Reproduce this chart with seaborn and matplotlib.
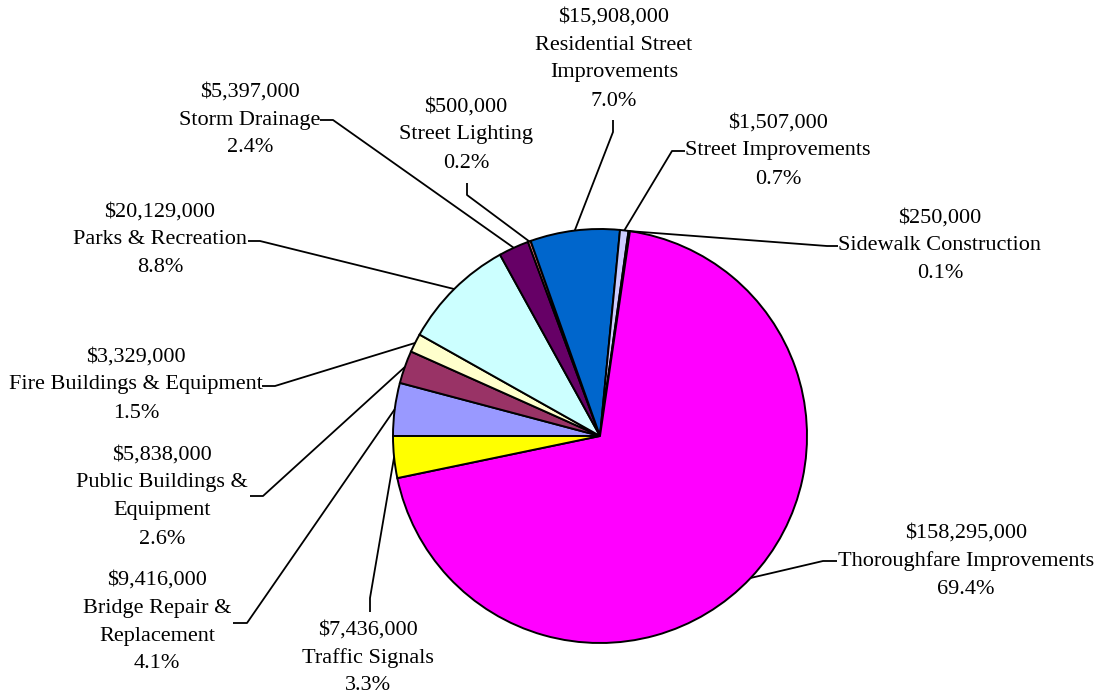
import matplotlib
matplotlib.use("Agg")
import matplotlib.pyplot as plt
import seaborn as sns
import numpy as np

sns.set_theme(style="white")
plt.rcParams['font.family'] = ['Liberation Serif', 'DejaVu Serif']

# ---- data (Excel order, drawn clockwise from 9 o'clock) ----
categories = ["Bridge Repair &\nReplacement", "Public Buildings &\nEquipment",
              "Fire Buildings & Equipment", "Parks & Recreation", "Storm Drainage",
              "Street Lighting", "Residential Street\nImprovements",
              "Street Improvements", "Sidewalk Construction",
              "Thoroughfare Improvements", "Traffic Signals"]
amounts = [9416000, 5838000, 3329000, 20129000, 5397000, 500000, 15908000,
           1507000, 250000, 158295000, 7436000]
percent_labels = ["4.1%", "2.6%", "1.5%", "8.8%", "2.4%", "0.2%", "7.0%",
                  "0.7%", "0.1%", "69.4%", "3.3%"]
colors = ["#9999FF", "#993366", "#FFFFCC", "#CCFFFF", "#660066", "#FF8080",
          "#0066CC", "#CCCCFF", "#000080", "#FF00FF", "#FFFF00"]

# ---- label layout (pixel positions: text centre x, first line y, elbow, end) ----
text_x = [157, 162, 136, 160, 250, 466, 614, 778, 940, 966, 368]
text_y0 = [580, 455, 357, 212, 92, 107, 17, 123, 218, 533, 630]
elbows = [(247, 623), (263, 496), (275, 386), (260, 241), (333, 120), (467, 195),
          (613, 132), (672, 151), (827, 246), (823, 561), (370, 598)]
ends = [(233, 623), (250, 496), (262, 386), (248, 241), (320, 120), (467, 183),
        (613, 120), (685, 151), (838, 246), (837, 561), (370, 612)]

W, H = 1098, 698
LINE = 28
CX, CY, R = 600, 436, 207

def px(x, y):
    return x, H - y

fig = plt.figure(figsize=(W / 100, H / 100), dpi=100)
ax = fig.add_axes([0, 0, 1, 1])
wedges, _ = ax.pie(amounts, colors=colors, startangle=180, counterclock=False,
                   radius=R, center=px(CX, CY),
                   wedgeprops=dict(edgecolor="black", linewidth=1.4))
ax.set_xlim(0, W)
ax.set_ylim(0, H)
ax.set_aspect("equal")
ax.axis("off")

for i, w in enumerate(wedges):
    mid = np.deg2rad((w.theta1 + w.theta2) / 2)
    c = px(CX, CY)
    p = (c[0] + R * np.cos(mid), c[1] + R * np.sin(mid))
    e = px(*elbows[i])
    d = px(*ends[i])
    ax.plot([p[0], e[0], d[0]], [p[1], e[1], d[1]], color="black", lw=1.3,
            solid_capstyle="butt", zorder=1)
    lines = ["${:,}".format(amounts[i])] + categories[i].split("\n") + [percent_labels[i]]
    for k, t in enumerate(lines):
        tx, ty = px(text_x[i], text_y0[i] + k * LINE)
        ax.text(tx, ty, t, ha="center", va="center", fontsize=16, color="black")

fig.savefig("out.png", dpi=100, facecolor="white")
